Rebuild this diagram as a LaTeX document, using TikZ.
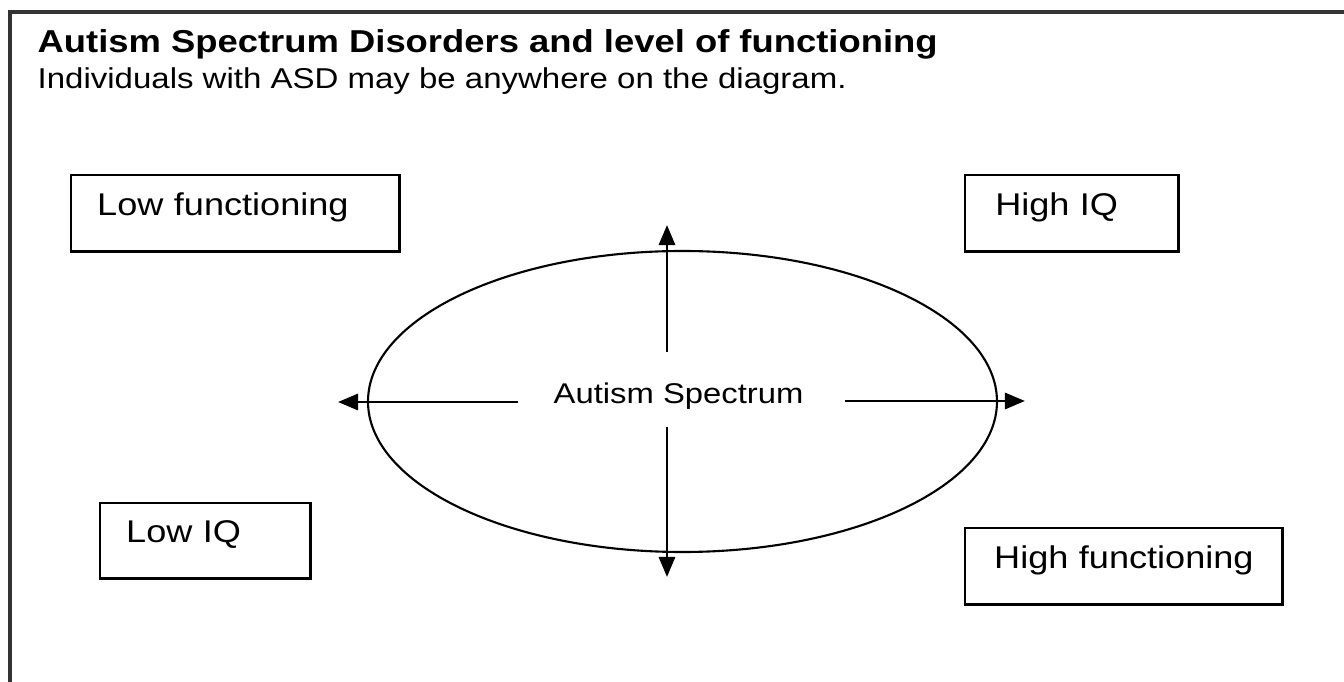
\documentclass[tikz,border=0pt]{standalone}
\usepackage{fontspec}
\setmainfont{Liberation Sans}[FakeStretch=1.15]
\usetikzlibrary{arrows.meta,positioning}

\tikzset{
  labelbox/.style={draw,line width=0.7pt,anchor=north west,inner ysep=0pt,
    text height=0.4cm,text depth=0.36cm,align=left,
    font=\fontsize{8.93}{11}\selectfont},
  plaintext/.style={anchor=base west,inner sep=0pt}
}

\begin{document}
\begin{tikzpicture}[x=0.01cm,y=-0.01cm]
	\useasboundingbox (0,0) rectangle (1344,682);
	\clip (0,0) rectangle (1344,682);
	\draw[line width=0.9pt,black!80] (10,12) rectangle (1400,720);

	% heading
	\node[plaintext,font=\fontsize{9}{11}\selectfont\bfseries] (title) at (37,53) {Autism Spectrum Disorders and level of functioning};
	\node[plaintext,font=\fontsize{8.16}{10}\selectfont] (subtitle) at (37,89) {Individuals with ASD may be anywhere on the diagram.};

	\begin{scope}
		\node[labelbox,inner xsep=0.26cm,text width=2.76cm] (lowfun) at (70,174) {\mbox{Low functioning}};
		\node[labelbox,inner xsep=0.30cm,text width=1.53cm] (highiq) at (964,174) {\mbox{High IQ}};
		\node[labelbox,inner xsep=0.26cm,text width=1.58cm,text height=0.39cm] (lowiq) at (99,502) {\mbox{Low IQ}};
		\node[labelbox,inner xsep=0.29cm,text width=2.59cm] (highfun) at (964,527) {\mbox{High functioning}};
	\end{scope}

	\draw[line width=0.6pt] (682.5,401.5) ellipse (314.5 and 150.5);
	\node[plaintext,font=\fontsize{8.11}{10}\selectfont] (spectrum) at (553,404) {Autism Spectrum};

	\coordinate (upstart) at (667,352);
	\coordinate (uptip) at (667,225);
	\coordinate (downstart) at (667,427);
	\coordinate (downtip) at (667,577);
	\coordinate (leftstart) at (518,402);
	\coordinate (lefttip) at (338,402);
	\coordinate (rightstart) at (845,401);
	\coordinate (righttip) at (1025,401);

	\begin{scope}[>={Triangle[length=0.2cm,width=0.16cm]},line width=0.85pt]
		\draw[->] (upstart) -- (uptip);
		\draw[->] (downstart) -- (downtip);
		\draw[->] (leftstart) -- (lefttip);
		\draw[->] (rightstart) -- (righttip);
	\end{scope}
\end{tikzpicture}
\end{document}
